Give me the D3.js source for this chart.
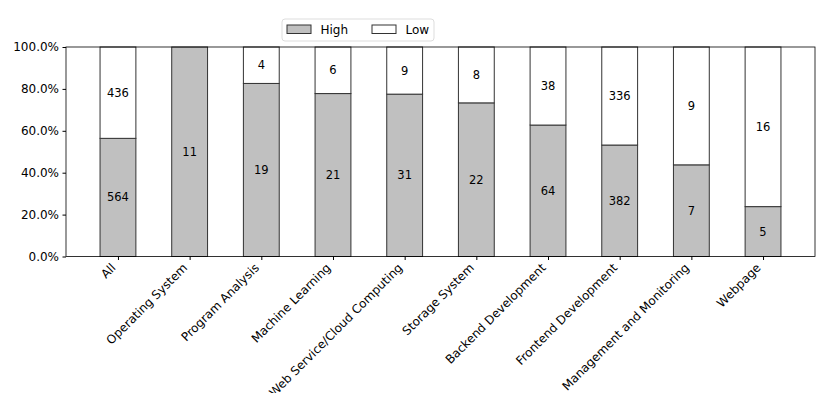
<!DOCTYPE html>
<html><head><meta charset="utf-8">
<script src="https://cdn.jsdelivr.net/npm/d3@7"></script>
<style>body{margin:0;background:#fff}svg{font-family:"DejaVu Sans",sans-serif}</style>
</head><body><svg id="c" width="831" height="393"></svg>
<script>
const categories = ["All","Operating System","Program Analysis","Machine Learning","Web Service/Cloud Computing","Storage System","Backend Development","Frontend Development","Management and Monitoring","Webpage"];
const high = [564,11,19,21,31,22,64,382,7,5];
const low = [436,0,4,6,9,8,38,336,9,16];
const yTicks = [0,0.2,0.4,0.6,0.8,1.0];

const svg = d3.select("#c");
const L=66, R=815, T=47, B=256.5;
const x = d3.scaleLinear().domain([-0.725, categories.length-1+0.725]).range([L,R]);
const bw = x(0.5)-x(0);
const y = d3.scaleLinear().domain([0,1]).range([B,T]);

const data = categories.map((c,i)=>{const t=high[i]+low[i];return {c,i,h:high[i],l:low[i],ph:high[i]/t,pl:low[i]/t};});

const g = svg.append("g");
data.forEach(d=>{
  const cx = x(d.i);
  g.append("rect").attr("x",cx-bw/2).attr("width",bw).attr("y",y(d.ph)).attr("height",y(0)-y(d.ph))
    .attr("fill","#c0c0c0").attr("stroke","#333").attr("stroke-width",1);
  g.append("text").attr("x",cx).attr("y",y(d.ph/2)).attr("dy","0.35em").attr("text-anchor","middle")
    .attr("font-size",11.5).text(d.h);
  if(d.l>0){
    g.append("rect").attr("x",cx-bw/2).attr("width",bw).attr("y",y(1)).attr("height",y(d.ph)-y(1))
      .attr("fill","#fff").attr("stroke","#333").attr("stroke-width",1);
    g.append("text").attr("x",cx).attr("y",y(d.ph+d.pl/2)).attr("dy","0.35em").attr("text-anchor","middle")
      .attr("font-size",11.5).text(d.l);
  }
});

// frame
svg.append("rect").attr("x",L).attr("y",T).attr("width",R-L).attr("height",B-T).attr("fill","none").attr("stroke","#000").attr("stroke-width",0.8);

const ya = svg.append("g").attr("transform",`translate(${L},0)`)
  .call(d3.axisLeft(y).tickValues(yTicks).tickFormat(d3.format(".1%")).tickSize(3.5).tickPadding(3.5));
ya.select(".domain").remove();
ya.selectAll("text").attr("font-size",12).attr("font-family","DejaVu Sans").attr("fill","#000");

const xa = svg.append("g").attr("transform",`translate(0,${B})`)
  .call(d3.axisBottom(x).tickValues(d3.range(categories.length)).tickFormat(i=>categories[i]).tickSize(3.5));
xa.select(".domain").remove();
xa.selectAll("text").attr("font-size",12).attr("font-family","DejaVu Sans").attr("fill","#000")
  .attr("text-anchor","end").attr("x",null).attr("y",null).attr("dy",null)
  .attr("transform","translate(-2,12) rotate(-45)");

// legend
const lg = svg.append("g");
lg.append("rect").attr("x",282).attr("y",19).attr("width",152).attr("height",22).attr("rx",3)
  .attr("fill","#fff").attr("stroke","#ddd");
const items=[["High","#c0c0c0",287],["Low","#fff",372]];
items.forEach(([t,f,xx])=>{
  lg.append("rect").attr("x",xx).attr("y",25).attr("width",24).attr("height",8.5).attr("fill",f).attr("stroke","#333").attr("stroke-width",1);
  lg.append("text").attr("x",xx+33.5).attr("y",29.5).attr("dy","0.35em").attr("font-size",12).text(t);
});
</script></body></html>
